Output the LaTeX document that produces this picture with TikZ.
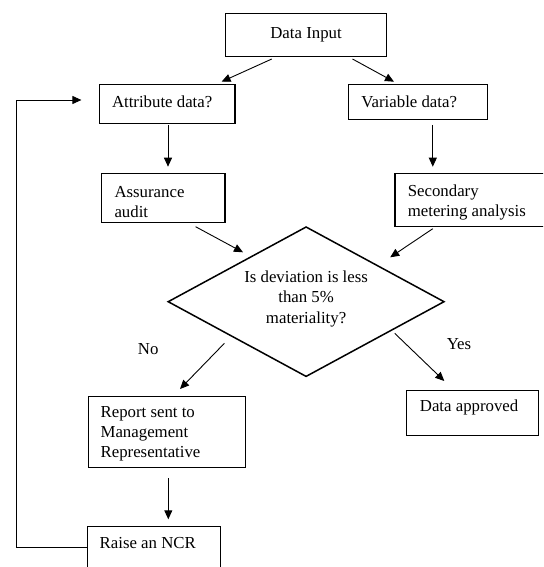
\documentclass[tikz,border=0pt]{standalone}
\usepackage{fontspec}
\setmainfont{Liberation Serif}
\usetikzlibrary{arrows.meta,calc,shapes.geometric}
\begin{document}
\begin{tikzpicture}[x=1pt,y=-1pt,
  box/.style={draw,line width=1.1pt,rectangle,inner sep=0pt,anchor=north west},
  txt/.style={font=\fontsize{16.8}{20.3}\selectfont,inner sep=0pt,align=left,anchor=base west},
  ctxt/.style={font=\fontsize{16.8}{20.3}\selectfont,inner sep=0pt,align=center,anchor=base},
  arr/.style={line width=0.9pt,-{Triangle[length=9pt,width=8pt]}},
  dec/.style={draw,diamond,line width=1.5pt,inner sep=0pt}]
\useasboundingbox (0,0) rectangle (543,567);
\clip (0,0) rectangle (543,567);
% boxes
\node[box,minimum width=161pt,minimum height=43pt,font=\fontsize{16.8}{20.3}\selectfont] (input) at (225,13) {Data Input};
\node[box,minimum width=135.7pt,minimum height=39pt] (attr) at (98.7,84.3) {};
\node[box,minimum width=139.2pt,minimum height=34.7pt] (var) at (348,84.3) {};
\node[box,minimum width=123.6pt,minimum height=49pt] (assur) at (100.8,173.3) {};
\node[box,minimum width=160pt,minimum height=53pt] (second) at (394.4,172.7) {};
\node[dec,minimum width=276.4pt,minimum height=150pt] (check) at (306.1,301.7) {};
\node[box,minimum width=157.6pt,minimum height=71.3pt] (report) at (87.6,395.7) {};
\node[box,minimum width=131.5pt,minimum height=45.3pt] (approved) at (406.2,389.7) {};
\node[box,minimum width=133.5pt,minimum height=60pt] (ncr) at (86.5,525.5) {};
% texts (base = baseline of the last line)
\node[txt] (tattr) at (111.8,107.5) {Attribute data?};
\node[txt] (tvar) at (361.2,107.5) {Variable data?};
\node[txt] (tassur) at (114.3,217.4) {Assurance\\audit};
\node[txt] (tsecond) at (407.6,216.3) {Secondary\\metering analysis};
\node[ctxt] (tcheck) at (306.1,323) {Is deviation is less\\than 5\%\\materiality?};
\node[ctxt] (tno) at (148.2,354.5) {No};
\node[ctxt] (tyes) at (459,349) {Yes};
\node[txt] (treport) at (100.4,457.6) {Report sent to\\Management\\Representative};
\node[txt] (tapproved) at (419.7,411.5) {Data approved};
\node[txt] (tncr) at (99.5,548) {Raise an NCR};
% connector ends
\coordinate (a1s) at (271.8,59);   \coordinate (a1e) at (221.6,81.7);
\coordinate (a2s) at (352.5,59);   \coordinate (a2e) at (394,81.7);
\coordinate (a3s) at (168,125);    \coordinate (a3e) at (168,166.7);
\coordinate (a4s) at (432.8,125);  \coordinate (a4e) at (432.8,166.7);
\coordinate (a5s) at (195.6,226.7); \coordinate (a5e) at (243,252.3);
\coordinate (a6s) at (432.8,228.7); \coordinate (a6e) at (390.2,257.3);
\coordinate (a7s) at (224.4,343.3); \coordinate (a7e) at (180,389);
\coordinate (a8s) at (394.7,333.3); \coordinate (a8e) at (444.3,381);
\coordinate (a9s) at (168.3,478.3); \coordinate (a9e) at (168.3,519.3);
\coordinate (loopc) at (16.3,547);
\coordinate (loopin) at (81.4,100);
% connectors
\draw[arr] (a1s) -- (a1e);
\draw[arr] (a2s) -- (a2e);
\draw[arr] (a3s) -- (a3e);
\draw[arr] (a4s) -- (a4e);
\draw[arr] (a5s) -- (a5e);
\draw[arr] (a6s) -- (a6e);
\draw[arr] (a7s) -- (a7e);
\draw[arr] (a8s) -- (a8e);
\draw[arr] (a9s) -- (a9e);
\draw[arr] (ncr.west|-loopc) -- (loopc) |- (loopin);
\end{tikzpicture}
\end{document}
